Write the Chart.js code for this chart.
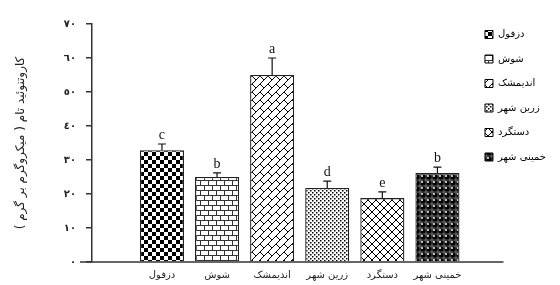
<!DOCTYPE html>
<html>
<head>
<meta charset="utf-8">
<script src="https://cdn.jsdelivr.net/npm/chart.js@4.4.1/dist/chart.umd.min.js"></script>
<style>
  body { margin: 0; background: #fff; }
</style>
</head>
<body>
<canvas id="myChart" width="560" height="285"></canvas>
<script>
// data
const categories = ['دزفول', 'شوش', 'اندیمشک', 'زرین شهر', 'دستگرد', 'خمینی شهر'];
const means = [32.9, 25.0, 55.0, 21.8, 18.8, 26.2];
const errors = [1.8, 1.2, 5.0, 2.0, 1.8, 1.7];
const letters = ['c', 'b', 'a', 'd', 'e', 'b'];
const yTickLabels = ['٠', '١٠', '٢٠', '٣٠', '٤٠', '٥٠', '٦٠', '٧٠'];
const yTitle = 'کاروتنوئید تام ( میکروگرم بر گرم )';

const arFont = "'DejaVu Sans', sans-serif";

// hatch fills, one per site
function tile(w, h, draw) {
    let c = document.createElement('canvas');
    c.width = w;
    c.height = h;
    let g = c.getContext('2d');
    g.fillStyle = '#fff';
    g.fillRect(0, 0, w, h);
    g.fillStyle = '#000';
    g.strokeStyle = '#000';
    g.lineWidth = 1;
    draw(g);
    return document.getElementById('myChart').getContext('2d').createPattern(c, 'repeat');
}

const patterns = [
    tile(8, 8, g => {
        g.fillRect(0, 0, 4, 4);
        g.fillRect(4, 4, 4, 4);
    }),
    tile(8, 10, g => {
        g.strokeStyle = '#333';
        g.beginPath();
        g.moveTo(0, 0.5); g.lineTo(8, 0.5);
        g.moveTo(0, 5.5); g.lineTo(8, 5.5);
        g.moveTo(0.5, 0); g.lineTo(0.5, 5);
        g.moveTo(4.5, 5); g.lineTo(4.5, 10);
        g.stroke();
    }),
    tile(8, 8, g => {
        g.beginPath();
        g.moveTo(0, 8); g.lineTo(8, 0);
        g.moveTo(-1, 1); g.lineTo(1, -1);
        g.moveTo(7, 9); g.lineTo(9, 7);
        g.moveTo(4, 4); g.lineTo(8, 8);
        g.stroke();
    }),
    tile(4, 4, g => {
        g.fillRect(0, 0, 1.5, 1.5);
        g.fillRect(2, 2, 1.5, 1.5);
    }),
    tile(8, 8, g => {
        g.beginPath();
        g.moveTo(0, 0); g.lineTo(8, 8);
        g.moveTo(0, 8); g.lineTo(8, 0);
        g.stroke();
    }),
    tile(6, 6, g => {
        g.fillStyle = '#555';
        g.fillRect(0, 0, 6, 6);
        g.fillStyle = '#000';
        g.beginPath();
        g.arc(3, 3, 2.6, 0, Math.PI * 2);
        g.fill();
        g.fillStyle = '#fff';
        g.beginPath();
        g.arc(2, 2, 1, 0, Math.PI * 2);
        g.fill();
    })
];

const errorBars = {
    id: 'errorBars',
    afterDatasetsDraw(chart) {
        const ctx = chart.ctx;
        const x = chart.scales.x;
        const y = chart.scales.y;
        ctx.save();
        ctx.strokeStyle = '#111';
        ctx.lineWidth = 1.2;
        ctx.fillStyle = '#111';
        ctx.font = "14px 'Liberation Serif', serif";
        ctx.textAlign = 'center';
        ctx.textBaseline = 'alphabetic';
        for (let i = 0; i < means.length; i++) {
            let px = x.getPixelForValue(i);
            let y0 = y.getPixelForValue(means[i]);
            let y1 = y.getPixelForValue(means[i] + errors[i]);
            ctx.beginPath();
            ctx.moveTo(px, y0);
            ctx.lineTo(px, y1);
            ctx.moveTo(px - 4, y1);
            ctx.lineTo(px + 4, y1);
            ctx.stroke();
            ctx.fillText(letters[i], px, y1 - 5);
        }
        // x axis line runs a little past the plot on both sides
        const b = chart.chartArea.bottom;
        ctx.strokeStyle = '#333';
        ctx.lineWidth = 1.5;
        ctx.beginPath();
        ctx.moveTo(chart.chartArea.left - 12, b);
        ctx.lineTo(chart.chartArea.right + 33, b);
        ctx.stroke();
        ctx.restore();
    }
};

const myChart = new Chart(document.getElementById('myChart'), {
    type: 'bar',
    data: {
        datasets: [{
            data: means.map((v, i) => ({ x: i, y: v })),
            backgroundColor: patterns,
            borderColor: '#222',
            borderWidth: 1.3,
            barPercentage: 0.8,
            categoryPercentage: 1
        }]
    },
    plugins: [errorBars],
    options: {
        responsive: false,
        animation: false,
        layout: {
            padding: { top: 15, left: 8, right: 4, bottom: 2 }
        },
        plugins: {
            tooltip: { enabled: false },
            legend: {
                position: 'right',
                align: 'start',
                onClick: () => {},
                labels: {
                    boxWidth: 8,
                    boxHeight: 8,
                    padding: 14.5,
                    color: '#222',
                    font: { family: arFont, size: 10 },
                    generateLabels: () => categories.map((c, i) => ({
                        text: c,
                        fillStyle: patterns[i],
                        strokeStyle: '#000',
                        lineWidth: 1,
                        hidden: false,
                        index: i
                    }))
                }
            }
        },
        scales: {
            x: {
                type: 'linear',
                offset: false,
                min: -1.27,
                max: 5.6,
                afterBuildTicks: s => {
                    s.ticks = categories.map((c, i) => ({ value: i }));
                },
                afterFit: s => {
                    s.height = 21;
                },
                grid: { display: false },
                border: { display: false },
                ticks: {
                    autoSkip: false,
                    maxRotation: 0,
                    padding: -1,
                    color: '#222',
                    font: { family: arFont, size: 10 },
                    callback: v => categories[v]
                }
            },
            y: {
                min: 0,
                max: 70,
                afterFit: s => {
                    s.paddingTop = 24;
                    s.width = 84;
                },
                grid: {
                    drawOnChartArea: false,
                    drawTicks: true,
                    tickLength: 6,
                    color: '#333',
                    lineWidth: 1.5
                },
                border: { color: '#333', width: 1.5 },
                ticks: {
                    stepSize: 10,
                    padding: 10,
                    color: '#222',
                    font: { family: arFont, size: 10, weight: 'bold' },
                    callback: v => yTickLabels[v / 10]
                },
                title: {
                    display: true,
                    text: yTitle,
                    color: '#222',
                    font: { family: arFont, size: 12 },
                    padding: { top: 6, bottom: 0 }
                }
            }
        }
    }
});
</script>
</body>
</html>
